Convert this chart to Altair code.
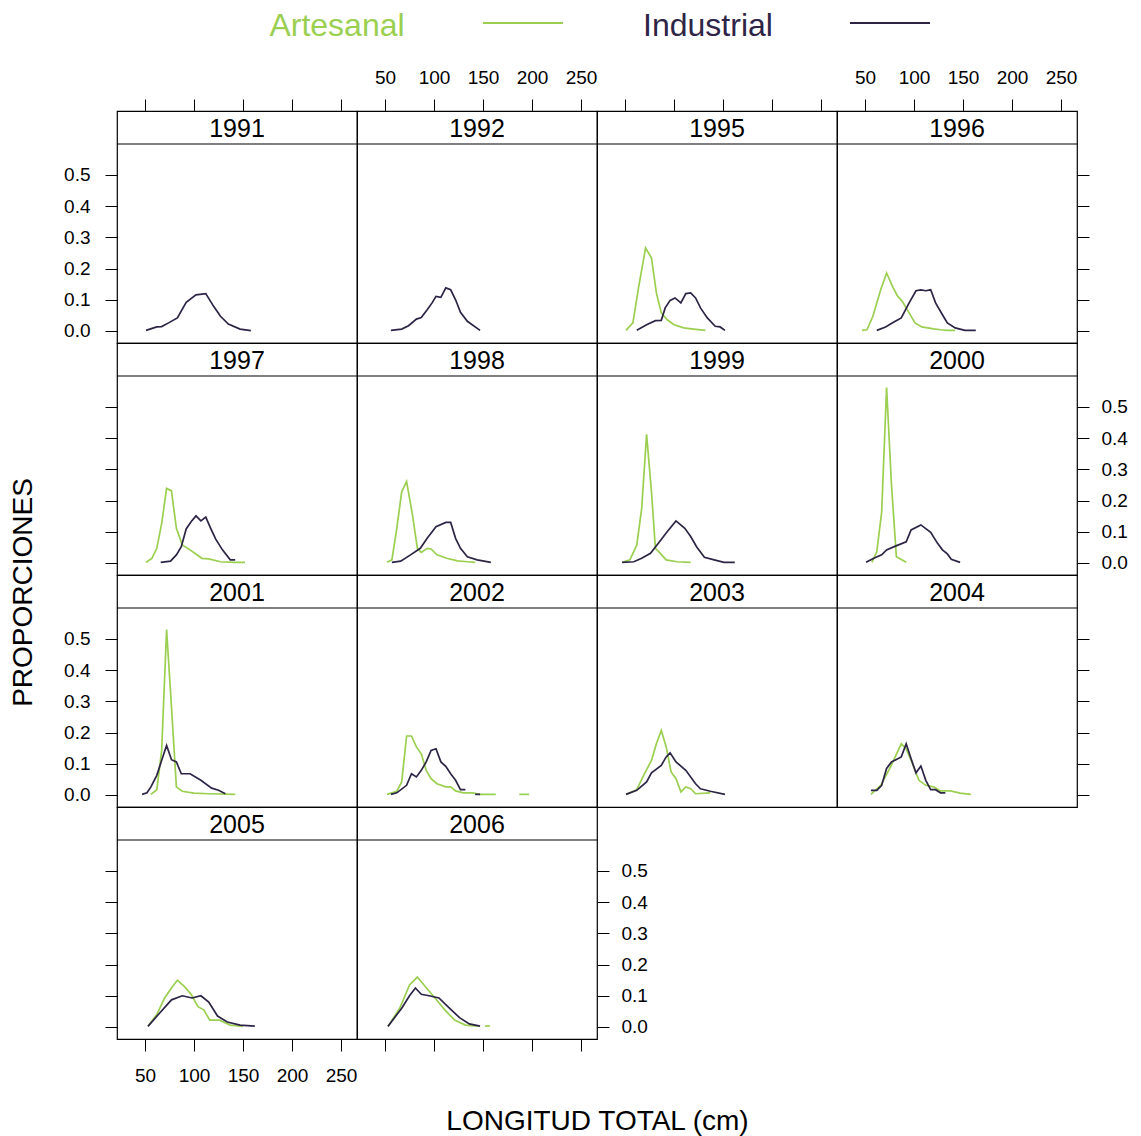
import altair as alt
import pandas as pd

FONT = "Liberation Sans"
YEARS = [1991, 1992, 1995, 1996, 1997, 1998, 1999, 2000, 2001, 2002, 2003, 2004, 2005, 2006]
SERIES = ["Artesanal", "Industrial"]
COLORS = ["#9BCF50", "#2D2446"]
XTICKS = [50, 100, 150, 200, 250]
YTICKS = [0.0, 0.1, 0.2, 0.3, 0.4, 0.5]

# ---- data; None marks a break in the line ----
x_1991_ind = [51, 62, 67, 74, 83, 92, 102, 112, 120, 127, 135, 147, 158]
y_1991_ind = [0.002, 0.013, 0.014, 0.026, 0.042, 0.092, 0.116, 0.12, 0.079, 0.047, 0.022, 0.006, 0.001]

x_1992_ind = [56, 67, 74, 82, 87, 93, 98, 102, 107, 112, 117, 122, 127, 134, 147]
y_1992_ind = [0.002, 0.006, 0.017, 0.038, 0.043, 0.068, 0.09, 0.111, 0.108, 0.138, 0.132, 0.1, 0.06, 0.031, 0.002]

x_1995_art = [51, 58, 64, 71, 77, 82, 87, 93, 100, 110, 120, 132]
y_1995_art = [0.002, 0.026, 0.143, 0.266, 0.234, 0.122, 0.058, 0.036, 0.02, 0.01, 0.006, 0.002]
x_1995_ind = [62, 72, 81, 87, 91, 96, 101, 107, 112, 117, 122, 127, 134, 142, 147, 152]
y_1995_ind = [0.002, 0.02, 0.033, 0.034, 0.074, 0.098, 0.106, 0.09, 0.12, 0.122, 0.106, 0.074, 0.042, 0.015, 0.013, 0.002]

x_1996_art = [47, 52, 58, 66, 72, 78, 83, 88, 95, 101, 108, 120, 127, 134, 142]
y_1996_art = [0.002, 0.004, 0.047, 0.132, 0.186, 0.143, 0.113, 0.095, 0.058, 0.026, 0.013, 0.007, 0.004, 0.002, 0.002]
x_1996_ind = [62, 71, 79, 87, 95, 102, 107, 112, 117, 122, 129, 134, 142, 152, 163]
y_1996_ind = [0.002, 0.013, 0.028, 0.042, 0.09, 0.129, 0.132, 0.129, 0.132, 0.09, 0.052, 0.026, 0.01, 0.002, 0.002]

x_1997_art = [51, 57, 62, 67, 72, 77, 82, 88, 96, 108, 115, 127, 141, 152]
y_1997_art = [0.002, 0.015, 0.047, 0.127, 0.239, 0.231, 0.111, 0.058, 0.042, 0.015, 0.013, 0.004, 0.002, 0.002]
x_1997_ind = [66, 76, 82, 87, 92, 97, 102, 107, 112, 117, 122, 129, 137, 142]
y_1997_ind = [0.002, 0.006, 0.026, 0.052, 0.109, 0.132, 0.151, 0.135, 0.147, 0.111, 0.077, 0.042, 0.01, 0.01]

x_1998_art = [52, 57, 62, 67, 72, 78, 83, 87, 93, 97, 103, 113, 124, 134, 142]
y_1998_art = [0.002, 0.01, 0.111, 0.228, 0.261, 0.154, 0.047, 0.034, 0.047, 0.045, 0.026, 0.015, 0.007, 0.004, 0.002]
x_1998_ind = [57, 66, 76, 86, 93, 102, 112, 117, 122, 127, 134, 144, 158]
y_1998_ind = [0.002, 0.006, 0.026, 0.047, 0.079, 0.116, 0.13, 0.13, 0.079, 0.047, 0.02, 0.01, 0.002]

x_1999_art = [47, 55, 62, 67, 72, 77, 81, 86, 92, 103, 117]
y_1999_art = [0.002, 0.01, 0.058, 0.175, 0.412, 0.228, 0.047, 0.031, 0.01, 0.004, 0.002]
x_1999_ind = [47, 59, 67, 76, 84, 93, 102, 111, 117, 123, 131, 141, 151, 162]
y_1999_ind = [0.002, 0.004, 0.015, 0.031, 0.063, 0.1, 0.135, 0.111, 0.085, 0.052, 0.018, 0.01, 0.002, 0.002]

x_2000_art = [57, 62, 67, 72, 77, 82, 92]
y_2000_art = [0.002, 0.036, 0.164, 0.562, 0.25, 0.02, 0.002]
x_2000_ind = [51, 59, 67, 72, 81, 92, 97, 107, 117, 124, 129, 134, 138, 147]
y_2000_ind = [0.002, 0.015, 0.026, 0.042, 0.054, 0.068, 0.106, 0.122, 0.098, 0.063, 0.042, 0.029, 0.012, 0.002]

x_2001_art = [56, 62, 67, 72, 77, 82, 88, 100, 115, 142]
y_2001_art = [0.002, 0.017, 0.143, 0.53, 0.282, 0.026, 0.012, 0.006, 0.004, 0.002]
x_2001_ind = [47, 52, 56, 62, 67, 72, 77, 82, 87, 96, 107, 118, 125, 132]
y_2001_ind = [0.002, 0.007, 0.026, 0.063, 0.111, 0.159, 0.113, 0.106, 0.068, 0.068, 0.047, 0.022, 0.015, 0.004]

x_2002_art = [52, 62, 67, 72, 77, 82, 87, 92, 97, 103, 112, 117, 122, 130, 139, 147, 163, 175, 187, 197]
y_2002_art = [0.002, 0.012, 0.042, 0.189, 0.189, 0.154, 0.132, 0.079, 0.052, 0.036, 0.026, 0.026, 0.013, 0.007, 0.007, 0.002, 0.002, None, 0.002, 0.002]
x_2002_ind = [56, 62, 72, 77, 82, 87, 92, 97, 102, 107, 112, 117, 122, 127, 132, 137, 142, 147]
y_2002_ind = [0.002, 0.007, 0.031, 0.068, 0.058, 0.079, 0.106, 0.143, 0.148, 0.106, 0.092, 0.068, 0.047, 0.017, 0.017, None, 0.002, 0.002]

x_2003_art = [51, 62, 69, 77, 82, 87, 92, 97, 102, 107, 112, 117, 122, 137]
y_2003_art = [0.002, 0.017, 0.063, 0.111, 0.164, 0.207, 0.154, 0.074, 0.052, 0.01, 0.026, 0.02, 0.004, 0.007]
x_2003_ind = [51, 62, 72, 77, 87, 92, 96, 102, 112, 122, 127, 137, 152]
y_2003_ind = [0.002, 0.015, 0.042, 0.071, 0.095, 0.122, 0.135, 0.106, 0.079, 0.036, 0.02, 0.012, 0.002]

x_2004_art = [56, 66, 76, 87, 92, 97, 105, 112, 120, 127, 137, 147, 158]
y_2004_art = [0.002, 0.031, 0.09, 0.164, 0.148, 0.111, 0.047, 0.031, 0.026, 0.013, 0.013, 0.006, 0.002]
x_2004_ind = [56, 62, 67, 72, 77, 82, 87, 92, 97, 102, 107, 112, 117, 122, 127, 132]
y_2004_ind = [0.015, 0.015, 0.031, 0.085, 0.106, 0.114, 0.122, 0.164, 0.116, 0.071, 0.093, 0.047, 0.017, 0.017, 0.007, 0.007]

x_2005_art = [53, 62, 70, 77, 83, 90, 97, 104, 110, 116, 126, 137, 150]
y_2005_art = [0.002, 0.04, 0.093, 0.125, 0.15, 0.13, 0.105, 0.065, 0.055, 0.022, 0.022, 0.006, 0.002]
x_2005_ind = [53, 65, 77, 88, 98, 107, 115, 124, 134, 147, 162]
y_2005_ind = [0.002, 0.045, 0.087, 0.1, 0.093, 0.1, 0.08, 0.035, 0.016, 0.006, 0.003]

x_2006_art = [53, 65, 75, 83, 91, 101, 111, 121, 132, 145, 149, 152, 157]
y_2006_art = [0.002, 0.06, 0.135, 0.16, 0.13, 0.093, 0.055, 0.022, 0.006, 0.003, None, 0.003, 0.003]
x_2006_ind = [53, 67, 75, 81, 87, 95, 105, 116, 126, 136, 147]
y_2006_ind = [0.002, 0.06, 0.1, 0.125, 0.105, 0.1, 0.093, 0.06, 0.03, 0.01, 0.003]

ART = {
    1995: (x_1995_art, y_1995_art), 1996: (x_1996_art, y_1996_art),
    1997: (x_1997_art, y_1997_art), 1998: (x_1998_art, y_1998_art),
    1999: (x_1999_art, y_1999_art), 2000: (x_2000_art, y_2000_art),
    2001: (x_2001_art, y_2001_art), 2002: (x_2002_art, y_2002_art),
    2003: (x_2003_art, y_2003_art), 2004: (x_2004_art, y_2004_art),
    2005: (x_2005_art, y_2005_art), 2006: (x_2006_art, y_2006_art),
}
IND = {
    1991: (x_1991_ind, y_1991_ind), 1992: (x_1992_ind, y_1992_ind),
    1995: (x_1995_ind, y_1995_ind), 1996: (x_1996_ind, y_1996_ind),
    1997: (x_1997_ind, y_1997_ind), 1998: (x_1998_ind, y_1998_ind),
    1999: (x_1999_ind, y_1999_ind), 2000: (x_2000_ind, y_2000_ind),
    2001: (x_2001_ind, y_2001_ind), 2002: (x_2002_ind, y_2002_ind),
    2003: (x_2003_ind, y_2003_ind), 2004: (x_2004_ind, y_2004_ind),
    2005: (x_2005_ind, y_2005_ind), 2006: (x_2006_ind, y_2006_ind),
}


def frame(year):
    rows = []
    for serie, table in ((SERIES[0], ART), (SERIES[1], IND)):
        if year not in table:
            continue
        xs, ys = table[year]
        seg = 0
        for xv, yv in zip(xs, ys):
            if yv is None:
                seg += 1
                continue
            rows.append({"serie": serie, "seg": f"{serie}{seg}", "x": xv, "y": yv})
    return pd.DataFrame(rows)


W, H, STRIP = 240, 232, 33
XDOM = [21.4, 266.3]
YDOM = [-0.0385, 0.705]
NCOL = 4

AX = dict(tickSize=12, tickColor="black", tickWidth=1, labelFont=FONT,
          labelFontSize=19, labelColor="black", domain=False, grid=False,
          labelFlush=False, titleFont=FONT, titleFontSize=28,
          titleFontWeight="normal", titleColor="black")


def panel(i, year):
    r, c = divmod(i, NCOL)
    nrows = (len(YEARS) + NCOL - 1) // NCOL
    last_in_row = (c == NCOL - 1) or (i == len(YEARS) - 1)

    # x axis
    if r == 0:
        xa = alt.Axis(orient="top", values=XTICKS, labels=(c % 2 == 1), title=None,
                      labelPadding=12, **AX)
    elif r == nrows - 1:
        if c == 1:
            xa = alt.Axis(orient="bottom", values=XTICKS, labels=(c == 0),
                          title="LONGITUD TOTAL (cm)", titleX=W, titleY=82,
                          titleAlign="center", titleBaseline="middle",
                          labelPadding=15, **AX)
        else:
            xa = alt.Axis(orient="bottom", values=XTICKS, labels=(c == 0), title=None,
                          labelPadding=15, **AX)
    else:
        xa = None

    # y axis
    if c == 0:
        if r == 1:
            ya = alt.Axis(orient="left", values=YTICKS, format=".1f", labels=(r % 2 == 0),
                          title="PROPORCIONES", titleX=-94, titleY=H + 17, titleAngle=270,
                          titleAlign="center", titleBaseline="middle",
                          labelPadding=15, **AX)
        else:
            ya = alt.Axis(orient="left", values=YTICKS, format=".1f", labels=(r % 2 == 0),
                          title=None, labelPadding=15, **AX)
    elif last_in_row:
        ya = alt.Axis(orient="right", values=YTICKS, format=".1f", labels=(r % 2 == 1),
                      title=None, labelPadding=12, **AX)
    else:
        ya = None

    df = frame(year)
    lines = alt.Chart(df).mark_line(strokeWidth=1.7).encode(
        x=alt.X("x:Q", scale=alt.Scale(domain=XDOM, nice=False, zero=False), axis=xa),
        y=alt.Y("y:Q", scale=alt.Scale(domain=YDOM, nice=False, zero=False), axis=ya),
        color=alt.Color("serie:N", scale=alt.Scale(domain=SERIES, range=COLORS), legend=None),
        detail="seg:N",
    )
    lab = pd.DataFrame({"year": [str(year)]})
    strip_txt = alt.Chart(lab).mark_text(font=FONT, fontSize=25, color="black",
                                         baseline="middle", align="center").encode(
        text="year:N", x=alt.value(W / 2), y=alt.value(STRIP / 2 + 1))
    strip_line = alt.Chart(lab).mark_rule(color="black", strokeWidth=1.2).encode(
        x=alt.value(0), x2=alt.value(W), y=alt.value(STRIP))
    layers = [strip_line, strip_txt, lines]

    if i == 0:
        leg = pd.DataFrame({"serie": SERIES})
        t1 = alt.Chart(leg).transform_filter(alt.datum.serie == SERIES[0]).mark_text(
            font=FONT, fontSize=32, color=COLORS[0], align="center", baseline="middle").encode(
            text="serie:N", x=alt.value(220), y=alt.value(-85))
        l1 = alt.Chart(leg).transform_filter(alt.datum.serie == SERIES[0]).mark_rule(
            color=COLORS[0], strokeWidth=2.2).encode(
            x=alt.value(366), x2=alt.value(446), y=alt.value(-88))
        t2 = alt.Chart(leg).transform_filter(alt.datum.serie == SERIES[1]).mark_text(
            font=FONT, fontSize=32, color=COLORS[1], align="center", baseline="middle").encode(
            text="serie:N", x=alt.value(591), y=alt.value(-85))
        l2 = alt.Chart(leg).transform_filter(alt.datum.serie == SERIES[1]).mark_rule(
            color=COLORS[1], strokeWidth=2.2).encode(
            x=alt.value(733), x2=alt.value(813), y=alt.value(-88))
        layers += [t1, l1, t2, l2]

    return alt.layer(*layers).properties(width=W, height=H)


panels = [panel(i, y) for i, y in enumerate(YEARS)]

chart = alt.concat(*panels, columns=NCOL, spacing=0, bounds="flush").properties(
    padding={"left": 0, "top": 1, "right": 0, "bottom": 0}
).configure(font=FONT).configure_view(stroke="black", strokeWidth=1.2)

chart.save("out.html", embed_options={"renderer": "svg", "actions": False})
